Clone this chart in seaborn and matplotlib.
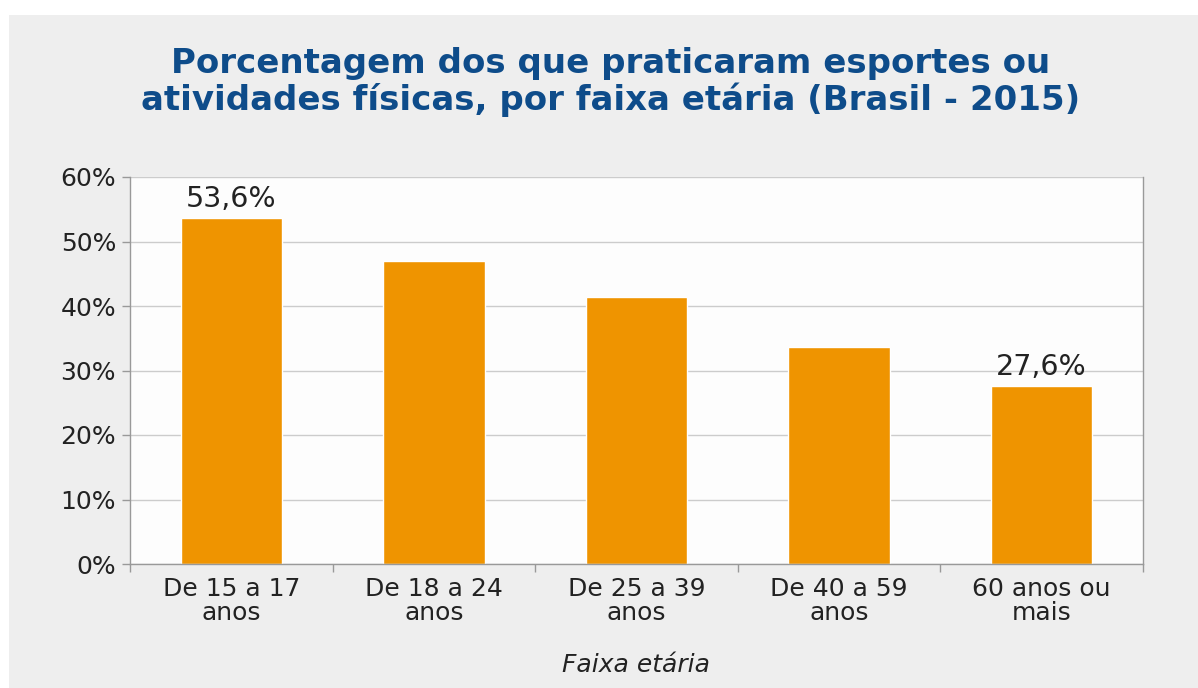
import matplotlib
matplotlib.use("Agg")
import matplotlib.pyplot as plt
import seaborn as sns
import pandas as pd
from matplotlib.patches import Rectangle
from matplotlib.ticker import FixedLocator, FuncFormatter

categories = ["De 15 a 17\nanos", "De 18 a 24\nanos", "De 25 a 39\nanos",
              "De 40 a 59\nanos", "60 anos ou\nmais"]
values = [53.6, 47.0, 41.4, 33.6, 27.6]
labels = ["53,6%", None, None, None, "27,6%"]
title = "Porcentagem dos que praticaram esportes ou\natividades físicas, por faixa etária (Brasil - 2015)"
xlabel = "Faixa etária"

sns.set_theme(style="white")
plt.rcParams['font.family'] = ['DejaVu Sans']

W, H = 1198, 688
fig = plt.figure(figsize=(W / 100, H / 100), dpi=100)
fig.patch.set_facecolor("white")
fig.patches.append(Rectangle((9 / W, 0), 1 - 9 / W, 1 - 15 / H, transform=fig.transFigure,
                             facecolor="#eeeeee", edgecolor="none", zorder=-10))

ax = fig.add_axes([130 / W, 1 - 564 / H, (1143 - 130) / W, (564 - 177) / H])
ax.set_facecolor("#fdfdfd")

df = pd.DataFrame({"cat": categories, "val": values})
sns.barplot(data=df, x="cat", y="val", color="#ef9400", saturation=1, width=0.5, ax=ax)

ax.set_xlim(-0.5, len(categories) - 0.5)
ax.set_ylim(0, 60)
ax.yaxis.set_major_locator(FixedLocator([0, 10, 20, 30, 40, 50, 60]))
ax.yaxis.set_major_formatter(FuncFormatter(lambda v, p: f"{int(v)}%"))
ax.grid(axis="y", color="#cccccc", linewidth=1)
ax.set_axisbelow(True)

for s in ["left", "right", "bottom"]:
    ax.spines[s].set_visible(True)
    ax.spines[s].set_color("#999999")
    ax.spines[s].set_linewidth(1)
ax.spines["top"].set_visible(False)

ax.tick_params(axis="y", which="major", left=True, length=6, width=1, color="#999999",
               labelsize=18, labelcolor="#222222", pad=4)
ax.tick_params(axis="x", which="major", length=0, labelsize=18, labelcolor="#222222", pad=9)
ax.set_xticks([i - 0.5 for i in range(len(categories) + 1)], minor=True)
ax.tick_params(axis="x", which="minor", bottom=True, length=6, width=1, color="#999999")
for t in ax.get_xticklabels():
    t.set_linespacing(1.05)

ax.set_xlabel(xlabel, fontsize=18, style="italic", color="#222222", labelpad=20)
ax.set_ylabel("")

for i, (v, lab) in enumerate(zip(values, labels)):
    if lab:
        ax.text(i, v + 0.8, lab, ha="center", va="bottom", fontsize=20.5, color="#222222")

fig.text(611 / W, 1 - 82 / H, title, ha="center", va="center", fontsize=24.5,
         fontweight="bold", color="#0e4c8a", linespacing=1.08)

fig.savefig("out.png", dpi=100, facecolor=fig.get_facecolor())
